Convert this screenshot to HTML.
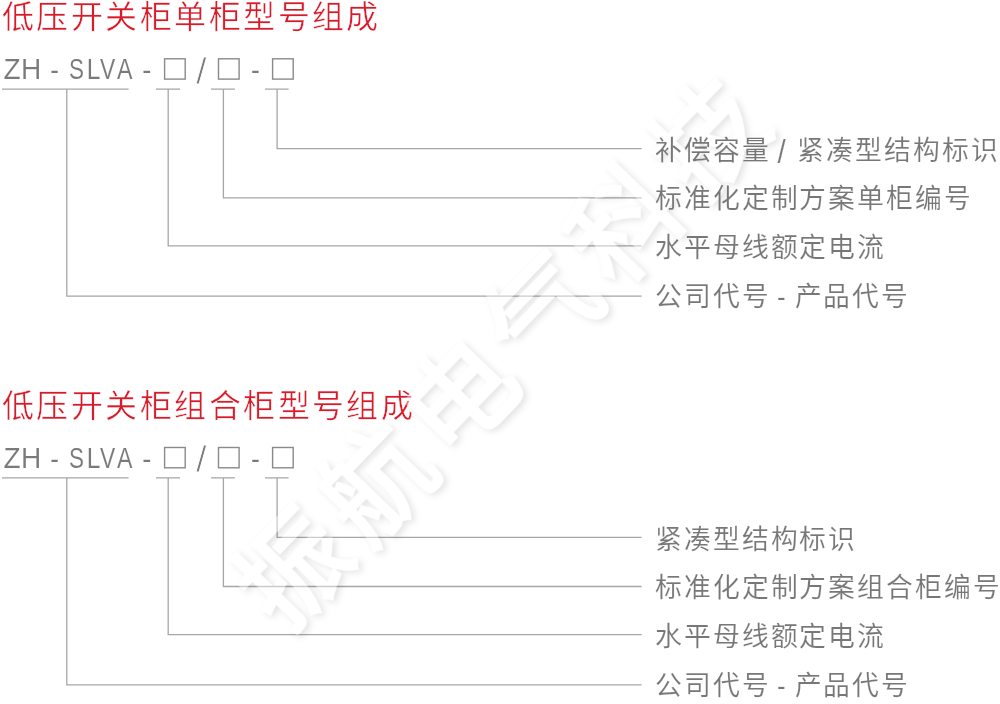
<!DOCTYPE html>
<html lang="zh-CN"><head><meta charset="utf-8"><title>低压开关柜型号组成</title>
<style>
html,body{margin:0;padding:0;background:#fff;}
body{width:1000px;height:704px;overflow:hidden;font-family:"Liberation Sans",sans-serif;}
svg{display:block;font-family:"Liberation Sans",sans-serif;will-change:transform;}
.th{stroke:#fff;stroke-width:0.15px;}
.tt{stroke:#fff;stroke-width:0.45px;}
.thl{stroke:#fff;stroke-width:0.1px;}
</style></head><body>
<svg width="1000" height="704" viewBox="0 0 1000 704">
<defs><filter id="sh" x="-20%" y="-20%" width="140%" height="140%">
<feGaussianBlur in="SourceAlpha" stdDeviation="3.2"/><feOffset dx="0.5" dy="3.5" result="b"/>
<feComposite in="b" in2="SourceAlpha" operator="out" result="o"/>
<feFlood flood-color="#000" flood-opacity="0.105"/><feComposite in2="o" operator="in"/>
</filter></defs>
<rect width="1000" height="704" fill="#fff"/>
<text class="tt" x="1.8" y="28.30" fill="#d81b29" font-size="32.0" letter-spacing="2.47">低压开关柜单柜型号组成</text>
<g class="thl" fill="#7a7a7a" font-size="29.0"><text transform="translate(3.41,79.00) scale(0.969,1.000)">Z</text><text transform="translate(20.90,79.00) scale(0.969,1.000)">H</text><text transform="translate(50.19,79.80) scale(0.904,1.000)">-</text><text transform="translate(68.88,79.00) scale(0.773,1.000)">S</text><text transform="translate(86.84,79.00) scale(0.845,1.000)">L</text><text transform="translate(100.10,79.00) scale(0.788,1.000)">V</text><text transform="translate(117.00,79.00) scale(0.801,1.000)">A</text><text transform="translate(142.13,79.80) scale(0.946,1.000)">-</text><text transform="translate(250.97,79.80) scale(0.918,1.000)">-</text><text style="stroke-width:0.7px" transform="translate(196.00,83.64) scale(1.316,1.268)">/</text></g>
<rect x="164.6" y="58.80" width="20.6" height="20.3" fill="none" stroke="#8a8a8a" stroke-width="1.4"/>
<rect x="218.5" y="58.80" width="20.6" height="20.3" fill="none" stroke="#8a8a8a" stroke-width="1.4"/>
<rect x="272.6" y="58.80" width="20.6" height="20.3" fill="none" stroke="#8a8a8a" stroke-width="1.4"/>
<path d="M2 89.10H128.6 M156 89.10H180 M211 89.10H234.9 M265 89.10H288.6 M277.1 89.10V148.60H641.6 M223.4 89.10V197.80H641.6 M168.2 89.10V245.90H641.6 M66.8 89.10V296.10H641.6" fill="none" stroke="#a6a6a6" stroke-width="1.3"/>
<text class="tt" x="1.8" y="417.00" fill="#d81b29" font-size="32.0" letter-spacing="2.47">低压开关柜组合柜型号组成</text>
<g class="thl" fill="#7a7a7a" font-size="29.0"><text transform="translate(3.41,467.70) scale(0.969,1.000)">Z</text><text transform="translate(20.90,467.70) scale(0.969,1.000)">H</text><text transform="translate(50.19,468.50) scale(0.904,1.000)">-</text><text transform="translate(68.88,467.70) scale(0.773,1.000)">S</text><text transform="translate(86.84,467.70) scale(0.845,1.000)">L</text><text transform="translate(100.10,467.70) scale(0.788,1.000)">V</text><text transform="translate(117.00,467.70) scale(0.801,1.000)">A</text><text transform="translate(142.13,468.50) scale(0.946,1.000)">-</text><text transform="translate(250.97,468.50) scale(0.918,1.000)">-</text><text style="stroke-width:0.7px" transform="translate(196.00,472.34) scale(1.316,1.268)">/</text></g>
<rect x="164.6" y="447.50" width="20.6" height="20.3" fill="none" stroke="#8a8a8a" stroke-width="1.4"/>
<rect x="218.5" y="447.50" width="20.6" height="20.3" fill="none" stroke="#8a8a8a" stroke-width="1.4"/>
<rect x="272.6" y="447.50" width="20.6" height="20.3" fill="none" stroke="#8a8a8a" stroke-width="1.4"/>
<path d="M2 477.80H128.6 M156 477.80H180 M211 477.80H234.9 M265 477.80H288.6 M277.1 477.80V537.30H641.6 M223.4 477.80V586.50H641.6 M168.2 477.80V634.60H641.6 M66.8 477.80V684.80H641.6" fill="none" stroke="#a6a6a6" stroke-width="1.3"/>
<g transform="translate(292,568) rotate(-46.15)" font-size="108">
<g filter="url(#sh)" fill="#000" stroke="#000" stroke-width="3.5" stroke-linejoin="miter"><text x="0.0" y="41.0" text-anchor="middle">振</text><text x="119.8" y="41.0" text-anchor="middle">航</text><text x="239.6" y="41.0" text-anchor="middle">电</text><text x="359.4" y="41.0" text-anchor="middle">气</text><text x="479.2" y="41.0" text-anchor="middle">科</text><text x="599.0" y="41.0" text-anchor="middle">技</text></g>
<g fill="#fff" stroke="#fff" stroke-width="3.5" stroke-linejoin="miter" opacity="0.42"><text x="0.0" y="41.0" text-anchor="middle">振</text><text x="119.8" y="41.0" text-anchor="middle">航</text><text x="239.6" y="41.0" text-anchor="middle">电</text><text x="359.4" y="41.0" text-anchor="middle">气</text><text x="479.2" y="41.0" text-anchor="middle">科</text><text x="599.0" y="41.0" text-anchor="middle">技</text></g>
</g>
<text class="th" x="655" y="159.70" fill="#777777" font-size="26.8" letter-spacing="1.9">补偿容量</text>
<text class="th" x="797.3" y="159.70" fill="#777777" font-size="26.8" letter-spacing="1.9">紧凑型结构标识</text>
<text class="th" x="655" y="207.85" fill="#777777" font-size="26.8" letter-spacing="1.9">标准化定制方案单柜编号</text>
<text class="th" x="655" y="256.95" fill="#777777" font-size="26.8" letter-spacing="1.9">水平母线额定电流</text>
<text class="th" x="655" y="306.15" fill="#777777" font-size="26.8" letter-spacing="1.9">公司代号</text>
<text class="th" x="794.5" y="306.15" fill="#777777" font-size="26.8" letter-spacing="1.9">产品代号</text>
<text class="th" transform="translate(777.6,162.87) scale(1.101,1.270)" fill="#777777" font-size="26.8">/</text>
<text class="th" fill="#777777" font-size="26.8" transform="translate(776.95,306.15) scale(0.963,1.000)">-</text>
<text class="th" x="655" y="548.60" fill="#777777" font-size="26.8" letter-spacing="1.9">紧凑型结构标识</text>
<text class="th" x="655" y="596.75" fill="#777777" font-size="26.8" letter-spacing="1.9">标准化定制方案组合柜编号</text>
<text class="th" x="655" y="645.85" fill="#777777" font-size="26.8" letter-spacing="1.9">水平母线额定电流</text>
<text class="th" x="655" y="695.05" fill="#777777" font-size="26.8" letter-spacing="1.9">公司代号</text>
<text class="th" x="794.5" y="695.05" fill="#777777" font-size="26.8" letter-spacing="1.9">产品代号</text>
<text class="th" fill="#777777" font-size="26.8" transform="translate(776.95,695.05) scale(0.963,1.000)">-</text>
</svg>
</body></html>
